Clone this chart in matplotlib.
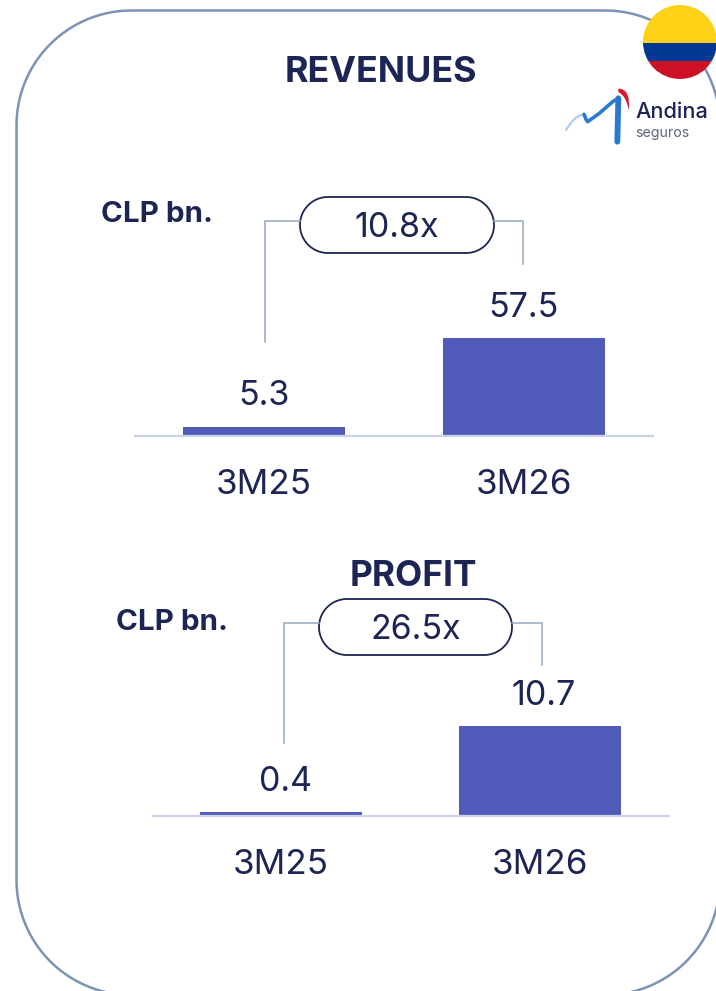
import matplotlib
matplotlib.use("Agg")
import numpy as np
import matplotlib.pyplot as plt
from matplotlib.patches import Rectangle, Circle, Polygon, PathPatch
from matplotlib.path import Path

W, H = 716, 991
plt.rcParams['font.family'] = ['Inter', 'DejaVu Sans']

categories = ["3M25", "3M26"]
revenues = [5.3, 57.5]
profit = [0.4, 10.7]
rev_multiple = "10.8x"
prof_multiple = "26.5x"
unit = "CLP bn."

INK = "#1c2554"
BAR = "#515cba"
AXIS = "#ccd2ec"
CONN = "#93a8bd"
FRAME = "#7b93b5"

fig = plt.figure(figsize=(W/100, H/100), dpi=100, facecolor="white")
bg = fig.add_axes([0, 0, 1, 1])
bg.set_xlim(0, W); bg.set_ylim(H, 0); bg.axis("off")

def rounded(x0, y0, x1, y1, r, n=40):
    """Outline of a rounded rectangle in the y-down pixel frame."""
    pts = []
    for cx, cy, a0 in [(x1-r, y0+r, -90), (x1-r, y1-r, 0), (x0+r, y1-r, 90), (x0+r, y0+r, 180)]:
        t = np.radians(np.linspace(a0, a0+90, n))
        pts.append(np.c_[cx+r*np.cos(t), cy+r*np.sin(t)])
    return np.vstack(pts)

# rounded frame
bg.add_patch(Polygon(rounded(16.5, 10.5, 720, 995, 115), closed=True,
                     fc="none", ec=FRAME, lw=1.8))

def bar_panel(left, right, base, px_per_unit, values, dx):
    ymax = max(values)*1.1
    h = ymax*px_per_unit
    ax = fig.add_axes([left/W, 1-base/H, (right-left)/W, h/H])
    ax.patch.set_alpha(0)
    ax.bar(range(2), values, width=0.623, color=BAR)
    ax.set_xlim(-0.5, 1.5); ax.set_ylim(0, ymax)
    ax.set_yticks([])
    ax.set_xticks(range(2), categories)
    ax.tick_params(axis="x", length=0, pad=24.2, labelsize=25.2, labelcolor=INK)
    for s in ("top", "left", "right"):
        ax.spines[s].set_visible(False)
    ax.spines["bottom"].set_color(AXIS)
    ax.spines["bottom"].set_linewidth(1.6)
    ax.spines["bottom"].set_capstyle("butt")
    for i, v in enumerate(values):
        ax.annotate(f"{v}", (i, v), xytext=(dx[i], 10.2), textcoords="offset points",
                    ha="center", va="bottom", fontsize=24.5, color=INK)
    return ax

bar_panel(134, 654, 435.5, 97.6/57.5, revenues, (0, -0.5))
bar_panel(151.5, 669.5, 815.5, 89.5/10.7, profit, (3.6, 2.9))

def pill(x0, x1, y0, y1, text, xl, yl_end, xr, yr_end, ym):
    bg.plot([xl, xl, x0], [yl_end, ym, ym], color=CONN, lw=1.1, solid_joinstyle="miter")
    bg.plot([x1, xr, xr], [ym, ym, yr_end], color=CONN, lw=1.1, solid_joinstyle="miter")
    r = (y1-y0)/2
    bg.add_patch(Polygon(rounded(x0, y0, x1, y1, r), closed=True, fc="white", ec=INK, lw=1.3))
    bg.text((x0+x1)/2, (y0+y1)/2+3, text, ha="center", va="center", fontsize=24.5, color=INK)

pill(300, 494, 197, 253, rev_multiple, 265, 342, 523, 264, 221)
pill(319, 512, 599, 655, prof_multiple, 284, 743, 542, 665, 623)

bg.text(381, 73, "REVENUES", ha="center", va="center", fontsize=25.8, fontweight="bold", color=INK)
bg.text(413, 576, "PROFIT", ha="center", va="center", fontsize=25.4, fontweight="bold", color=INK)
bg.text(157, 214, unit, ha="center", va="center", fontsize=21.3, fontweight="bold", color=INK)
bg.text(172, 623, unit, ha="center", va="center", fontsize=21.3, fontweight="bold", color=INK)

# flag badge
cx, cy, r = 680, 42, 37
clip = Circle((cx, cy), r, transform=bg.transData)
for y0, y1, c in [(0, 43, "#fdd116"), (43, 61, "#003893"), (61, 80, "#ce1126")]:
    p = bg.add_patch(Rectangle((cx-r-1, y0), 2*r+2, y1-y0, fc=c, ec="none"))
    p.set_clip_path(clip)

# insurer logo
def lx(v): return 556+np.asarray(v)/3
def ly(v): return 80+np.asarray(v)/3
bg.plot(lx([30, 45, 60, 72, 84]), ly([150, 128, 113, 106, 103]), color="#a9cdec", lw=1.5,
        solid_capstyle="round")
bg.plot(lx([84, 90, 95, 130, 170, 187]), ly([103, 118, 125, 100, 65, 55]),
        color="#2a78cf", lw=2.6, solid_capstyle="round", solid_joinstyle="round")
bg.plot(lx([187, 184]), ly([55, 185]), color="#2a78cf", lw=4.2, solid_capstyle="round")
bg.add_patch(PathPatch(Path(np.c_[lx([187, 225, 218, 212, 187]), ly([26, 26, 92, 48, 36])],
                            [Path.MOVETO, Path.CURVE3, Path.CURVE3, Path.CURVE3, Path.CURVE3]),
                       fc="#d8182f", ec="none"))
bg.text(635.5, 112, "Andina", ha="left", va="center", fontsize=15.6, fontweight="medium", color="#1c2554")
bg.text(635.5, 133, "seguros", ha="left", va="center", fontsize=10.2, color="#5d6680")

fig.savefig("out.png", dpi=100)
